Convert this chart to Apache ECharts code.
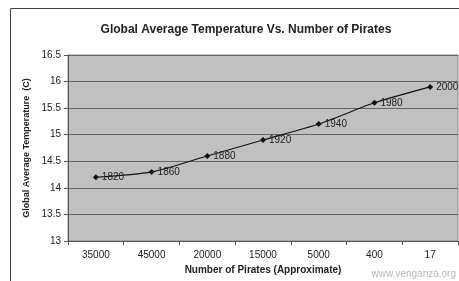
<!DOCTYPE html>
<html>
<head>
<meta charset="utf-8">
<script src="https://cdn.jsdelivr.net/npm/echarts@6/dist/echarts.min.js"></script>
<style>
  html, body { margin: 0; padding: 0; background: #fff; }
  #chart { width: 459px; height: 281px; }
</style>
</head>
<body>
<div id="chart"></div>
<script>
// 数据
var pirates = ['35000', '45000', '20000', '15000', '5000', '400', '17'];
var temps = [14.2, 14.3, 14.6, 14.9, 15.2, 15.6, 15.9];
var years = ['1820', '1860', '1880', '1920', '1940', '1980', '2000'];

var myChart = echarts.init(document.getElementById('chart'));

var option = {
	animation: false,
	textStyle: { fontFamily: 'Liberation Sans, Arial, sans-serif' },
	title: {
		text: 'Global Average Temperature Vs. Number of Pirates',
		left: 241,
		textAlign: 'center',
		top: 19,
		textStyle: { fontSize: 12, fontWeight: 'bold', color: '#222' }
	},
	graphic: [{
		type: 'rect',
		shape: { x: 10.5, y: 8.5, width: 460, height: 280 },
		style: { fill: 'none', stroke: '#444', lineWidth: 1 },
		z: -1
	}, {
		type: 'text',
		right: 3,
		bottom: 2,
		style: { text: 'www.venganza.org', fill: '#b8b8b8', font: '10px Liberation Sans, Arial' }
	}],
	grid: {
		left: 68, right: 1, top: 55, bottom: 40,
		show: true,
		backgroundColor: '#c0c0c0',
		borderColor: '#888',
		borderWidth: 1
	},
	xAxis: {
		type: 'category',
		data: pirates,
		boundaryGap: true,
		name: 'Number of Pirates (Approximate)',
		nameLocation: 'middle',
		nameGap: 23,
		nameTextStyle: { fontSize: 10, fontWeight: 'bold', color: '#222' },
		axisLine: { lineStyle: { color: '#555' } },
		axisTick: { show: true, length: 4, lineStyle: { color: '#555' } },
		axisLabel: { fontSize: 10, color: '#222', margin: 9 }
	},
	yAxis: {
		type: 'value',
		min: 13,
		max: 16.5,
		interval: 0.5,
		name: 'Global Average Temperature  (C)',
		nameLocation: 'middle',
		nameGap: 32,
		nameTextStyle: { fontSize: 9, fontWeight: 'bold', color: '#222' },
		axisLine: { show: true, lineStyle: { color: '#555' } },
		axisTick: { show: true, length: 4, lineStyle: { color: '#555' } },
		axisLabel: { fontSize: 10, color: '#222', margin: 7 },
		splitLine: { lineStyle: { color: '#666', width: 1 } }
	},
	series: [{
		type: 'line',
		data: temps,
		smooth: 0.25,
		symbol: 'diamond',
		symbolSize: 6,
		itemStyle: { color: '#111' },
		lineStyle: { color: '#111', width: 1.1 },
		label: {
			show: true,
			position: 'right',
			distance: 3,
			fontSize: 10,
			color: '#222',
			formatter: function(p) {
				return years[p.dataIndex];
			}
		}
	}]
};
myChart.setOption(option);
</script>
</body>
</html>
